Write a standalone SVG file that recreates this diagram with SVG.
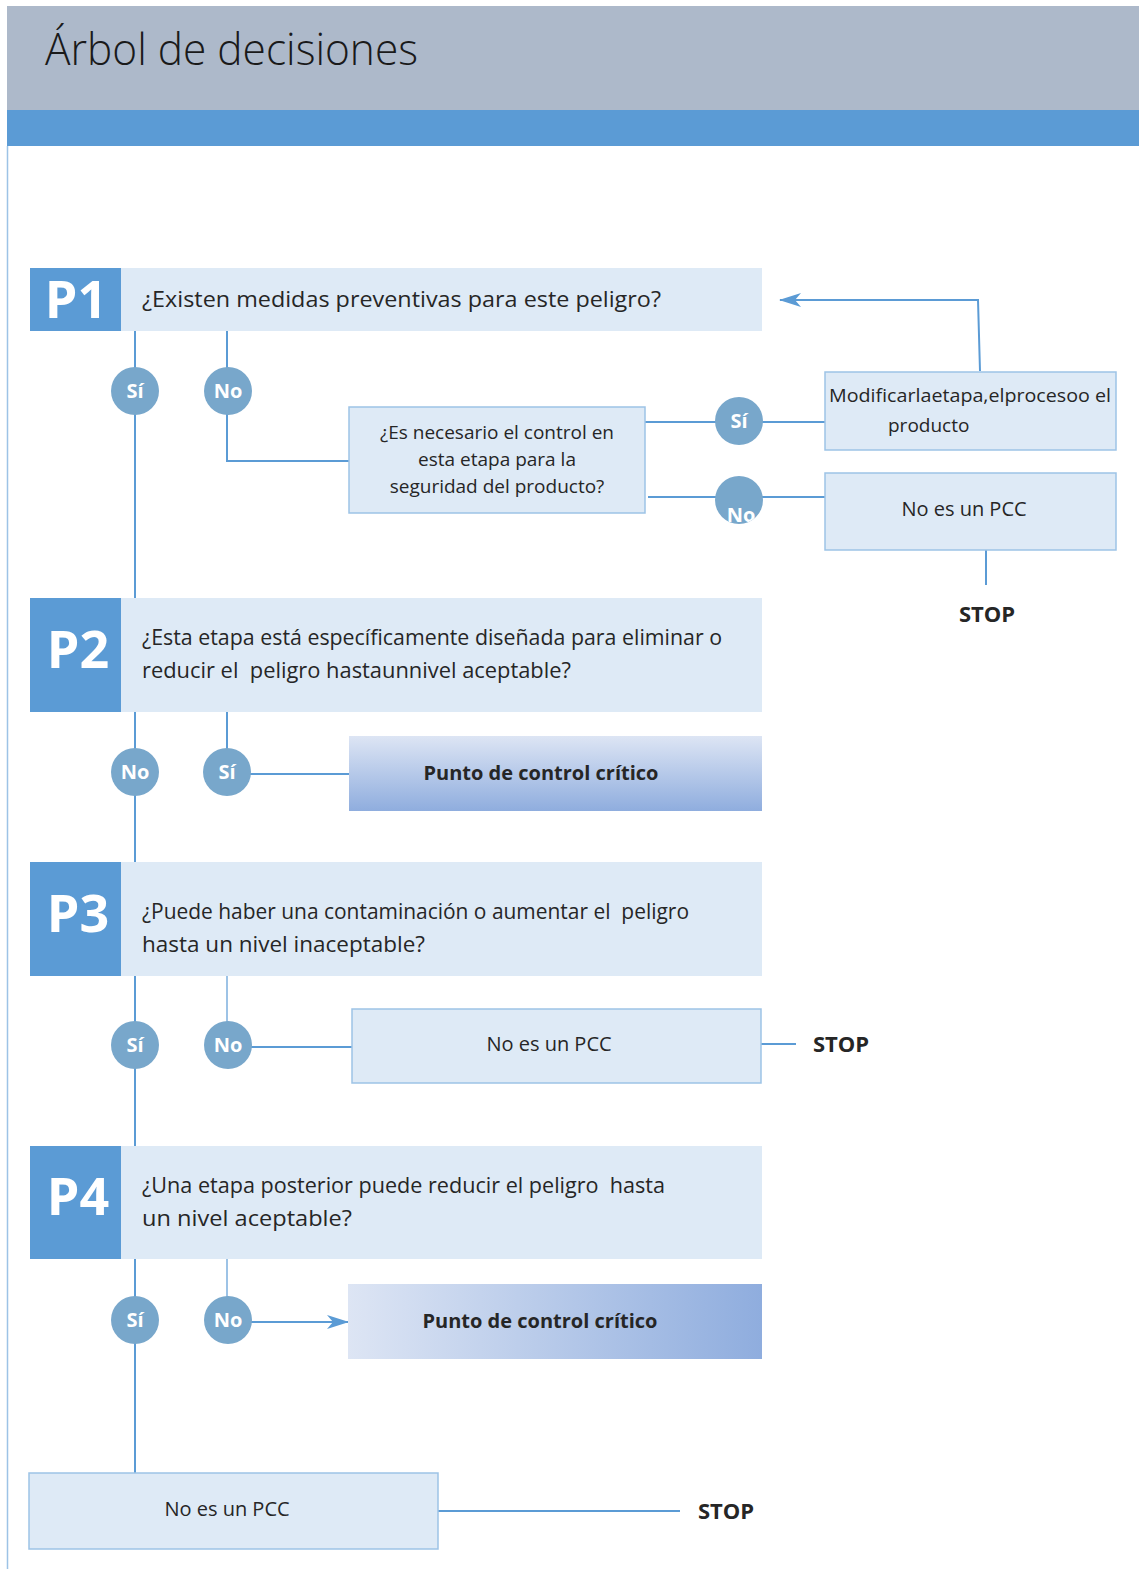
<svg xmlns="http://www.w3.org/2000/svg" width="1139" height="1569" viewBox="0 0 1139 1569">
<style>
.q{font-family:"Open Sans","Noto Sans",sans-serif;font-size:21px;fill:#262626;white-space:pre}
.t{font-family:"Open Sans","Noto Sans",sans-serif;font-size:19px;fill:#262626}
.n{font-family:"Open Sans","Noto Sans",sans-serif;font-size:20px;fill:#262626}
.b{font-family:"Open Sans","Noto Sans",sans-serif;font-size:20px;font-weight:bold;fill:#262626}
.s{font-family:"Open Sans","Noto Sans",sans-serif;font-size:22px;font-weight:bold;fill:#262626}
.p{font-family:"Open Sans","Noto Sans",sans-serif;font-size:52px;font-weight:bold;fill:#fff}
.c{font-family:"Open Sans","Noto Sans",sans-serif;font-size:20px;font-weight:bold;fill:#fff}
.pbox{fill:#5b9bd5}
.qbox{fill:#deeaf6}
.box{fill:#deeaf6;stroke:#9dc3e6;stroke-width:1.5}
.circ{fill:#78a7cb}
.ln{stroke:#5b9bd5;stroke-width:2;fill:none}
.lt{stroke:#9dc3e6;stroke-width:2;fill:none}
</style>
<defs>
<linearGradient id="gv" x1="0" y1="0" x2="0" y2="1"><stop offset="0" stop-color="#dde5f4"/><stop offset="1" stop-color="#8fadde"/></linearGradient>
<linearGradient id="gh" x1="0" y1="0" x2="1" y2="0"><stop offset="0" stop-color="#dde5f4"/><stop offset="1" stop-color="#8fadde"/></linearGradient>
<marker id="ah" viewBox="0 0 22 14" refX="21" refY="7" markerWidth="22" markerHeight="14" markerUnits="userSpaceOnUse" orient="auto"><path d="M0,0 L22,7 L0,14 L6,7 Z" fill="#5b9bd5"/></marker>
<clipPath id="cn"><circle cx="739" cy="500" r="24"/></clipPath>
</defs>
<rect width="1139" height="1569" fill="#fff"/>
<g id="header">
<rect x="7" y="6" width="1132" height="104" fill="#adb9ca"/>
<rect x="7" y="110" width="1132" height="36" fill="#5b9bd5"/>
<line x1="7.5" y1="146" x2="7.5" y2="1569" stroke="#9dc3e6" stroke-width="1.5"/>
<text x="45" y="65" font-family="'Open Sans','Noto Sans',sans-serif" font-size="44" font-weight="300" fill="#1a1a1a" textLength="373" lengthAdjust="spacingAndGlyphs">Árbol de decisiones</text>
</g>
<g id="connectors">
<line class="ln" x1="135" y1="331" x2="135" y2="598"/>
<polyline class="ln" points="227,331 227,461 349,461"/>
<line class="ln" x1="645" y1="422" x2="825" y2="422"/>
<line class="ln" x1="648" y1="497" x2="825" y2="497"/>
<polyline class="ln" points="980,371 978,300 780,300" marker-end="url(#ah)"/>
<line class="ln" x1="986" y1="550" x2="986" y2="585"/>
<line class="ln" x1="135" y1="712" x2="135" y2="862"/>
<line class="ln" x1="227" y1="712" x2="227" y2="772"/>
<line class="ln" x1="250" y1="774" x2="349" y2="774"/>
<line class="ln" x1="135" y1="976" x2="135" y2="1146"/>
<line class="lt" x1="227" y1="976" x2="227" y2="1040"/>
<line class="ln" x1="250" y1="1047" x2="352" y2="1047"/>
<line class="ln" x1="761" y1="1044" x2="796" y2="1044"/>
<line class="ln" x1="135" y1="1259" x2="135" y2="1473"/>
<line class="lt" x1="227" y1="1259" x2="227" y2="1310"/>
<line class="ln" x1="250" y1="1322" x2="348" y2="1322" marker-end="url(#ah)"/>
<line class="ln" x1="438" y1="1511" x2="680" y2="1511"/>
</g>
<g id="p1">
<rect class="pbox" x="30" y="268" width="91" height="63"/>
<rect class="qbox" x="121" y="268" width="641" height="63"/>
<text class="p" x="76" y="318" text-anchor="middle">P1</text>
<text class="q" x="142" y="307" textLength="519" lengthAdjust="spacingAndGlyphs">¿Existen medidas preventivas para este peligro?</text>
</g>
<g id="p1-si"><circle class="circ" cx="135" cy="391" r="24"/><text class="c" x="135" y="398" text-anchor="middle">Sí</text></g>
<g id="p1-no"><circle class="circ" cx="228" cy="391" r="24"/><text class="c" x="228" y="398" text-anchor="middle">No</text></g>
<g id="control">
<rect class="box" x="349" y="407" width="296" height="106"/>
<text class="t" x="497" y="439" text-anchor="middle">¿Es necesario el control en</text>
<text class="t" x="497" y="466" text-anchor="middle">esta etapa para la</text>
<text class="t" x="497" y="493" text-anchor="middle">seguridad del producto?</text>
</g>
<g id="ctrl-si"><circle class="circ" cx="739" cy="421" r="24"/><text class="c" x="739" y="428" text-anchor="middle">Sí</text></g>
<g id="ctrl-no"><circle class="circ" cx="739" cy="500" r="24"/><text class="c" x="741" y="522" text-anchor="middle" clip-path="url(#cn)">No</text></g>
<g id="modificar">
<rect class="box" x="825" y="372" width="291" height="78"/>
<text class="t" x="829" y="402" textLength="282" lengthAdjust="spacingAndGlyphs">Modificarlaetapa,elprocesoo el</text>
<text class="t" x="888" y="432">producto</text>
</g>
<g id="nopcc1">
<rect class="box" x="825" y="473" width="291" height="77"/>
<text class="n" x="964" y="516" text-anchor="middle">No es un PCC</text>
</g>
<g id="stop1"><text class="s" x="987" y="622" text-anchor="middle">STOP</text></g>
<g id="p2">
<rect class="pbox" x="30" y="598" width="91" height="114"/>
<rect class="qbox" x="121" y="598" width="641" height="114"/>
<text class="p" x="78" y="668" text-anchor="middle">P2</text>
<text class="q" x="142" y="645" textLength="580" lengthAdjust="spacingAndGlyphs">¿Esta etapa está específicamente diseñada para eliminar o</text>
<text class="q" x="142" y="678" textLength="429" lengthAdjust="spacingAndGlyphs">reducir el  peligro hastaunnivel aceptable?</text>
</g>
<g id="p2-no"><circle class="circ" cx="135" cy="772" r="24"/><text class="c" x="135" y="779" text-anchor="middle">No</text></g>
<g id="p2-si"><circle class="circ" cx="227" cy="772" r="24"/><text class="c" x="227" y="779" text-anchor="middle">Sí</text></g>
<g id="pcc1">
<rect x="349" y="736" width="413" height="75" fill="url(#gv)"/>
<text class="b" x="541" y="780" text-anchor="middle">Punto de control crítico</text>
</g>
<g id="p3">
<rect class="pbox" x="30" y="862" width="91" height="114"/>
<rect class="qbox" x="121" y="862" width="641" height="114"/>
<text class="p" x="78" y="932" text-anchor="middle">P3</text>
<text class="q" x="142" y="919" textLength="547" lengthAdjust="spacingAndGlyphs">¿Puede haber una contaminación o aumentar el  peligro</text>
<text class="q" x="142" y="952" textLength="283" lengthAdjust="spacingAndGlyphs">hasta un nivel inaceptable?</text>
</g>
<g id="p3-si"><circle class="circ" cx="135" cy="1045" r="24"/><text class="c" x="135" y="1052" text-anchor="middle">Sí</text></g>
<g id="p3-no"><circle class="circ" cx="228" cy="1045" r="24"/><text class="c" x="228" y="1052" text-anchor="middle">No</text></g>
<g id="nopcc2">
<rect class="box" x="352" y="1009" width="409" height="74"/>
<text class="n" x="549" y="1051" text-anchor="middle">No es un PCC</text>
</g>
<g id="stop2"><text class="s" x="813" y="1052">STOP</text></g>
<g id="p4">
<rect class="pbox" x="30" y="1146" width="91" height="113"/>
<rect class="qbox" x="121" y="1146" width="641" height="113"/>
<text class="p" x="78" y="1215" text-anchor="middle">P4</text>
<text class="q" x="142" y="1193" textLength="523" lengthAdjust="spacingAndGlyphs">¿Una etapa posterior puede reducir el peligro  hasta</text>
<text class="q" x="142" y="1226" textLength="210" lengthAdjust="spacingAndGlyphs">un nivel aceptable?</text>
</g>
<g id="p4-si"><circle class="circ" cx="135" cy="1320" r="24"/><text class="c" x="135" y="1327" text-anchor="middle">Sí</text></g>
<g id="p4-no"><circle class="circ" cx="228" cy="1320" r="24"/><text class="c" x="228" y="1327" text-anchor="middle">No</text></g>
<g id="pcc2">
<rect x="348" y="1284" width="414" height="75" fill="url(#gh)"/>
<text class="b" x="540" y="1328" text-anchor="middle">Punto de control crítico</text>
</g>
<g id="nopcc3">
<rect class="box" x="29" y="1473" width="409" height="76"/>
<text class="n" x="227" y="1516" text-anchor="middle">No es un PCC</text>
</g>
<g id="stop3"><text class="s" x="698" y="1519">STOP</text></g>
</svg>
